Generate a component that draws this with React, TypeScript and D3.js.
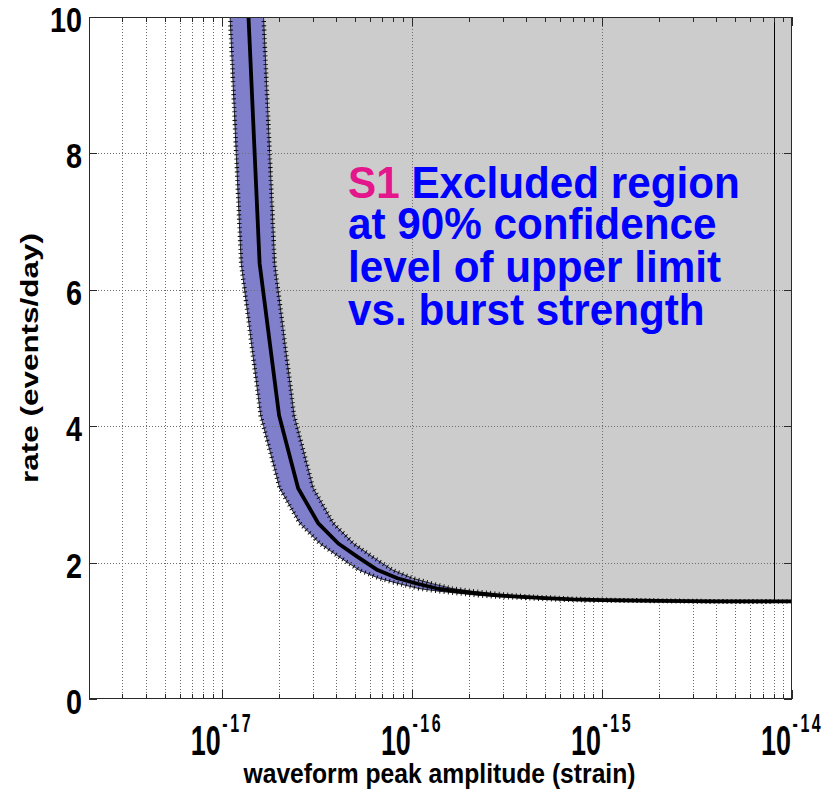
import React from "react";
import * as d3 from "d3";

// Central 90% upper-limit curve: burst peak amplitude (strain) vs. rate (events/day)
const amplitude = [
  1.24e-17, 1.58e-17, 2.0e-17, 2.52e-17, 3.21e-17, 4.1e-17, 5.2e-17, 6.6e-17,
  8.4e-17, 1.07e-16, 1.36e-16, 1.73e-16, 2.2e-16, 2.8e-16, 3.6e-16, 5e-16,
  7e-16, 1e-15, 2e-15, 4e-15, 1e-14,
];
const rate = [
  12.9, 6.39, 4.16, 3.09, 2.58, 2.28, 2.08, 1.89,
  1.77, 1.69, 1.62, 1.58, 1.55, 1.52, 1.5, 1.48,
  1.46, 1.45, 1.44, 1.43, 1.43,
];
// Calibration band edges (amplitude at the same rates)
const amplitudeLow = [
  0.992e-17, 1.264e-17, 1.6e-17, 2.016e-17, 2.568e-17, 3.28e-17, 4.16e-17, 5.28e-17,
  6.72e-17, 8.56e-17, 1.088e-16, 1.384e-16, 1.76e-16, 2.24e-16, 2.88e-16, 4e-16,
  5.6e-16, 8e-16, 1.6e-15, 3.2e-15, 8e-15,
];
const amplitudeHigh = [
  1.488e-17, 1.896e-17, 2.4e-17, 3.024e-17, 3.852e-17, 4.92e-17, 6.24e-17, 7.92e-17,
  1.008e-16, 1.284e-16, 1.632e-16, 2.076e-16, 2.64e-16, 3.36e-16, 4.32e-16, 6e-16,
  8.4e-16, 1.2e-15, 2.4e-15, 4.8e-15, 1.2e-14,
];
const exclusionEdge = 8e-15;

const xDomain = [2e-18, 1e-14];
const yDomain = [0, 10];
const yTicks = [0, 2, 4, 6, 8, 10];
const xDecades = [-17, -16, -15, -14];

const noteRun = "S1";
const noteLines = ["Excluded region", "at 90% confidence", "level of upper limit", "vs. burst strength"];

const W = 840;
const H = 792;
const L = 89;
const R = 792;
const T = 17;
const B = 699;

const FONT = "'Liberation Sans', Arial, Helvetica, sans-serif";

export default function App() {
  const x = d3.scaleLog().domain(xDomain).range([L, R]);
  const y = d3.scaleLinear().domain(yDomain).range([B, T]);

  const centre = amplitude.map((a, i) => [x(a), y(rate[i])] as [number, number]);
  const lowEdge = amplitudeLow.map((a, i) => [x(a), y(rate[i])] as [number, number]);
  const highEdge = amplitudeHigh.map((a, i) => [x(a), y(rate[i])] as [number, number]);

  const line = d3.line();
  const bandPath = line([...lowEdge, ...highEdge.slice().reverse()]) + "Z";
  const last = highEdge[highEdge.length - 1];
  const first = highEdge[0];
  const excludedPath =
    line([...highEdge, [last[0] + 50, last[1]], [last[0] + 50, first[1] - 50], [first[0], first[1] - 50]]) + "Z";

  // rate on the central curve at the exclusion edge (log-amplitude interpolation)
  const lx = amplitude.map((a) => Math.log10(a));
  const edgeRate = d3.scaleLinear().domain(lx).range(rate)(Math.log10(exclusionEdge));

  const majors = xDecades.map((e) => Math.pow(10, e));
  const minors: number[] = [];
  for (let e = -18; e <= -15; e++) {
    for (let k = 2; k <= 9; k++) {
      const v = k * Math.pow(10, e);
      if (v >= xDomain[0] && v <= xDomain[1]) minors.push(v);
    }
  }

  const gridStyle = { stroke: "#6e6e6e", strokeWidth: 1, strokeDasharray: "1,2", fill: "none" };
  const px = (v: number) => Math.round(x(v)) + 0.5;
  const noteBaselines = [198, 239, 282, 325];

  return (
    <svg
      width={W}
      height={H}
      style={{ position: "absolute", left: 0, top: 0, background: "#fff" }}
      fontFamily={FONT}
    >
      <defs>
        <clipPath id="plot">
          <rect x={L} y={T} width={R - L} height={B - T} />
        </clipPath>
      </defs>
      <rect x={0} y={0} width={W} height={H} fill="#fff" />

      <g clipPath="url(#plot)">
        {/* minor vertical grid */}
        {minors.map((v, i) => (
          <line key={"mg" + i} x1={px(v)} x2={px(v)} y1={T} y2={B} style={gridStyle} />
        ))}
        {/* excluded region */}
        <path d={excludedPath} fill="#cccccc" />
        {/* calibration band */}
        <path d={bandPath} fill="#7f7fcc" />
        {[lowEdge, highEdge].map((pts, i) => (
          <g key={"edge" + i}>
            <path d={line(pts) || ""} fill="none" stroke="#000" strokeWidth={0.8} />
            <path d={line(pts) || ""} fill="none" stroke="#000" strokeWidth={4.5} strokeDasharray="0.9,3.4" />
          </g>
        ))}
        {/* major grid */}
        {majors.map((v, i) => (
          <line key={"Mg" + i} x1={px(v)} x2={px(v)} y1={T} y2={B} style={gridStyle} />
        ))}
        {yTicks.slice(1, -1).map((v) => (
          <line key={"hg" + v} x1={L} x2={R} y1={Math.round(y(v)) + 0.5} y2={Math.round(y(v)) + 0.5} style={gridStyle} />
        ))}
        {/* central curve */}
        <path d={line(centre) || ""} fill="none" stroke="#000" strokeWidth={3.8} strokeLinejoin="round" />
        <line
          x1={px(exclusionEdge)}
          x2={px(exclusionEdge)}
          y1={y(yDomain[1])}
          y2={y(edgeRate)}
          stroke="#000"
          strokeWidth={1}
        />
      </g>

      {/* axes box and ticks */}
      <rect x={L + 0.5} y={T + 0.5} width={R - L - 1} height={B - T - 1} fill="none" stroke="#2a2a2a" strokeWidth={1} />
      {minors.map((v, i) => (
        <g key={"mt" + i} stroke="#2a2a2a">
          <line x1={px(v)} x2={px(v)} y1={B} y2={B - 5} />
          <line x1={px(v)} x2={px(v)} y1={T} y2={T + 5} />
        </g>
      ))}
      {majors.map((v, i) => (
        <g key={"Mt" + i} stroke="#2a2a2a">
          <line x1={px(v)} x2={px(v)} y1={B} y2={B - 9} />
          <line x1={px(v)} x2={px(v)} y1={T} y2={T + 9} />
        </g>
      ))}
      {yTicks.map((v) => {
        const py = Math.round(y(v)) + 0.5;
        return (
          <g key={"yt" + v} stroke="#2a2a2a">
            <line x1={L} x2={L + 8} y1={py} y2={py} />
            <line x1={R} x2={R - 8} y1={py} y2={py} />
          </g>
        );
      })}

      {/* y tick labels */}
      {yTicks.map((v) => (
        <text
          key={"yl" + v}
          x={82}
          y={y(v) + 15}
          textAnchor="end"
          fontSize={35}
          fontWeight="bold"
          textLength={String(v).length * 16}
          lengthAdjust="spacingAndGlyphs"
          fill="#000"
        >
          {v}
        </text>
      ))}

      {/* x tick labels: 10 with a raised exponent, as one condensed text */}
      {xDecades.map((e) => {
        const tx = x(Math.pow(10, e));
        return (
          <text
            key={"xl" + e}
            transform={`translate(${tx - 31}, 755) scale(0.64, 1)`}
            fill="#000"
            fontWeight="bold"
          >
            <tspan fontSize={42}>10</tspan>
            <tspan fontSize={25} dx={2.5} dy={-23} letterSpacing={4}>
              {String(e)}
            </tspan>
          </text>
        );
      })}

      {/* axis titles */}
      <text
        x={(L + R) / 2 - 1}
        y={783}
        textAnchor="middle"
        fontSize={28}
        fontWeight="bold"
        textLength={392}
        lengthAdjust="spacingAndGlyphs"
        fill="#000"
      >
        waveform peak amplitude (strain)
      </text>
      <g transform={`translate(38, ${(T + B) / 2}) scale(0.75, 1) rotate(-90)`}>
        <text
          x={0}
          y={0}
          textAnchor="middle"
          fontSize={31}
          fontWeight="bold"
          textLength={250}
          lengthAdjust="spacingAndGlyphs"
          fill="#000"
        >
          rate (events/day)
        </text>
      </g>

      {/* annotation, one text block */}
      <text transform="translate(348, 0) scale(0.96, 1)" fontSize={44} fontWeight="bold" fill="#0000ff">
        <tspan x={0} y={noteBaselines[0]} fill="#e4168c">
          {noteRun}
        </tspan>
        <tspan>{" " + noteLines[0]}</tspan>
        {noteLines.slice(1).map((t, i) => (
          <tspan key={t} x={0} y={noteBaselines[i + 1]}>
            {t}
          </tspan>
        ))}
      </text>
    </svg>
  );
}
